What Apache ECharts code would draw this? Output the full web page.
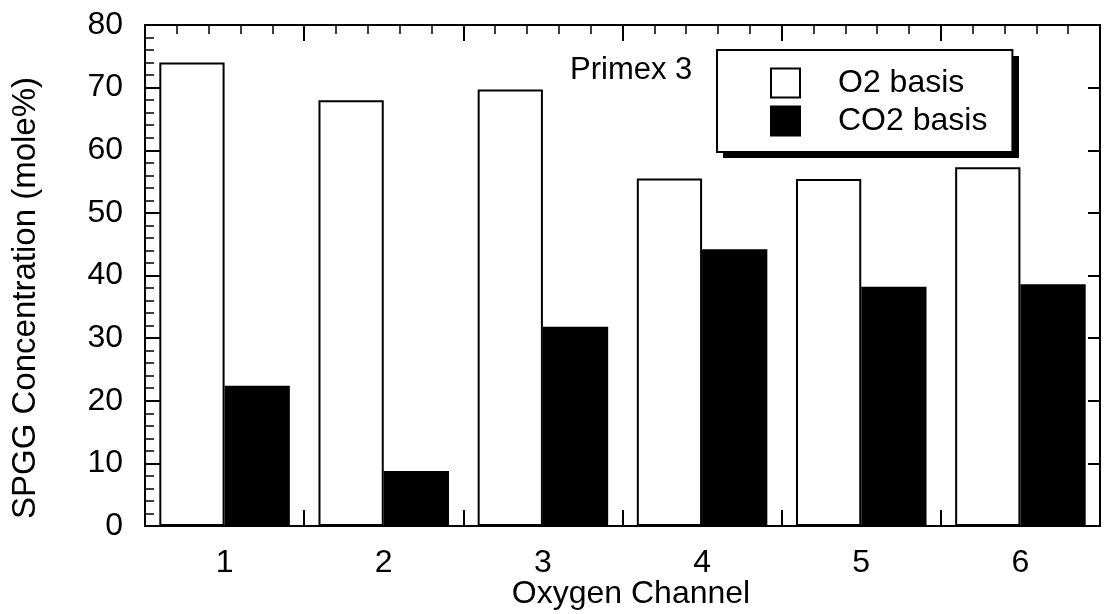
<!DOCTYPE html>
<html>
<head>
<meta charset="utf-8">
<script src="https://cdn.jsdelivr.net/npm/echarts@6/dist/echarts.min.js"></script>
<style>html,body{margin:0;padding:0;background:#fff;}#c{width:1106px;height:614px;}</style>
</head>
<body>
<div id="c"></div>
<script>
const categories = ['1', '2', '3', '4', '5', '6'];
const o2Basis = [74.0, 68.0, 69.7, 55.5, 55.4, 57.3];
const co2Basis = [22.4, 8.8, 31.8, 44.2, 38.2, 38.6];
const yTicks = { min: 0, max: 80, interval: 10 };
const FONT = "'Liberation Sans', Arial, Helvetica, sans-serif";

const chart = echarts.init(document.getElementById('c'), null, { renderer: 'canvas' });
const lineStyle = { color: '#000', width: 2 };
const tickAxisBase = {
  type: 'value', min: 0.5, max: categories.length + 0.5, interval: 1,
  axisLine: { show: true, lineStyle: lineStyle },
  axisTick: { show: true, inside: true, length: 16, lineStyle: { color: '#000', width: 2 } },
  minorTick: { show: true, splitNumber: 5, length: 9, lineStyle: { color: '#000', width: 1.5 } },
  axisLabel: { show: false }, splitLine: { show: false }, minorSplitLine: { show: false }
};
chart.setOption({
  animation: false,
  backgroundColor: '#fff',
  textStyle: { fontFamily: FONT },
  grid: { left: 145, right: 6, top: 25, bottom: 88, containLabel: false, outerBoundsMode: 'none' },
  legend: {
    data: ['O2 basis', 'CO2 basis'],
    orient: 'vertical', left: 717, top: 50, z: 6,
    padding: [17, 25, 15, 53],
    itemWidth: 29, itemHeight: 29, itemGap: 6,
    icon: 'rect',
    backgroundColor: '#fff', borderColor: '#000', borderWidth: 2,
    textStyle: { fontFamily: FONT, fontSize: 32, color: '#000', padding: [0, 0, 0, 33] },
    itemStyle: { borderColor: '#000', borderWidth: 2 }
  },
  graphic: [
    { type: 'rect', z: 5, shape: { x: 723, y: 56, width: 296, height: 102 },
      style: { fill: '#000' } },
    { type: 'text', left: 570, top: 55, z: 10,
      style: { text: 'Primex 3', font: '31px ' + FONT, fill: '#000' } },
    { type: 'text', x: 26, y: 298, rotation: Math.PI / 2, z: 10,
      style: { text: 'SPGG Concentration (mole%)', font: '33px ' + FONT, fill: '#000', align: 'center', verticalAlign: 'middle' } },
    { type: 'text', x: 631, y: 594, z: 10,
      style: { text: 'Oxygen Channel', font: '32px ' + FONT, fill: '#000', align: 'center', verticalAlign: 'middle' } }
  ],
  xAxis: [
    { type: 'category', data: categories, position: 'bottom',
      axisLine: { show: true, lineStyle: lineStyle },
      axisTick: { show: false },
      axisLabel: { color: '#000', fontSize: 32, fontFamily: FONT, margin: 21 } },
    Object.assign({ position: 'bottom' }, tickAxisBase),
    Object.assign({ position: 'top' }, tickAxisBase)
  ],
  yAxis: [
    { type: 'value', min: yTicks.min, max: yTicks.max, interval: yTicks.interval, position: 'left',
      axisLine: { show: true, lineStyle: lineStyle },
      axisTick: { show: true, inside: true, length: 16, lineStyle: { color: '#000', width: 2 } },
      minorTick: { show: true, splitNumber: 5, length: 9, lineStyle: { color: '#000', width: 1.5 } },
      axisLabel: { color: '#000', fontSize: 32, fontFamily: FONT, margin: 22 },
      splitLine: { show: false } },
    { type: 'value', min: yTicks.min, max: yTicks.max, interval: yTicks.interval, position: 'right',
      axisLine: { show: true, lineStyle: lineStyle },
      axisTick: { show: true, inside: true, length: 12, lineStyle: { color: '#000', width: 2 } },
      axisLabel: { show: false }, splitLine: { show: false } }
  ],
  series: [
    { name: 'O2 basis', type: 'bar', data: o2Basis, xAxisIndex: 0, yAxisIndex: 0,
      barGap: '0%', barCategoryGap: '18%',
      itemStyle: { color: '#fff', borderColor: '#000', borderWidth: 2 } },
    { name: 'CO2 basis', type: 'bar', data: co2Basis, xAxisIndex: 0, yAxisIndex: 0,
      barGap: '0%', barCategoryGap: '18%',
      itemStyle: { color: '#000', borderColor: '#000', borderWidth: 2 } }
  ]
});
</script>
</body>
</html>
